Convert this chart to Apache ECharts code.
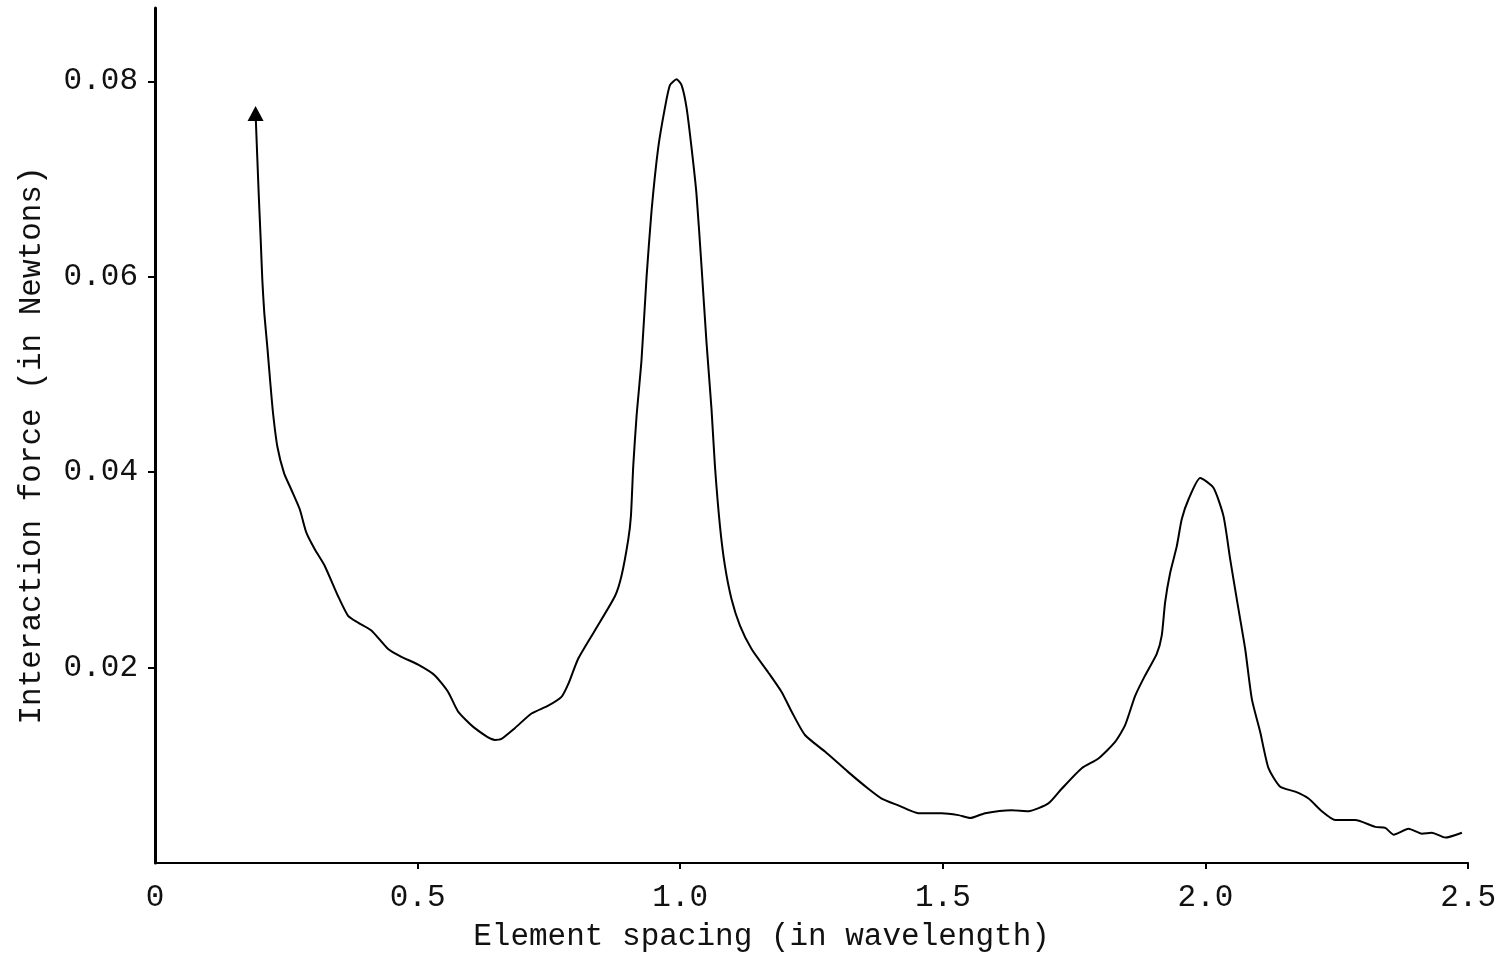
<!DOCTYPE html>
<html>
<head>
<meta charset="utf-8">
<script src="https://cdn.jsdelivr.net/npm/echarts@6/dist/echarts.min.js"></script>
<style>
html,body{margin:0;padding:0;background:#fff;}
#chart{width:1499px;height:957px;}
</style>
</head>
<body>
<div id="chart"></div>
<script>
// Element spacing (in wavelength)
var spacing = [0.1915,0.1975,0.2013,0.2044,0.2082,0.2139,0.2196,0.2248,0.2330,0.2457,0.2596,0.2756,0.2882,0.3042,0.3232,0.3486,0.3676,0.3867,0.4120,0.4438,0.4691,0.5010,0.5328,0.5581,0.5771,0.6090,0.6470,0.6596,0.6851,0.7168,0.7486,0.7739,0.7867,0.8057,0.8375,0.8756,0.8882,0.9010,0.9061,0.9105,0.9168,0.9263,0.9358,0.9453,0.9581,0.9709,0.9804,0.9930,1.0025,1.0120,1.0215,1.0310,1.0406,1.0501,1.0596,1.0661,1.0756,1.0851,1.0977,1.1137,1.1358,1.1676,1.1930,1.2120,1.2375,1.2756,1.3200,1.3581,1.3834,1.4152,1.4533,1.4977,1.5295,1.5518,1.5804,1.6310,1.6629,1.7010,1.7263,1.7644,1.7962,1.8280,1.8470,1.8661,1.8851,1.9072,1.9168,1.9232,1.9328,1.9453,1.9549,1.9676,1.9899,2.0152,2.0343,2.0470,2.0596,2.0756,2.0882,2.1042,2.1200,2.1423,2.1709,2.1962,2.2215,2.2470,2.2851,2.3232,2.3423,2.3581,2.3867,2.4120,2.4310,2.4566,2.4882];
// Interaction force (in Newtons)
var force = [0.0767,0.0684,0.0637,0.0596,0.0562,0.0528,0.0491,0.0460,0.0426,0.0399,0.0382,0.0362,0.0338,0.0321,0.0304,0.0273,0.0253,0.0246,0.0238,0.0219,0.0211,0.0203,0.0192,0.0175,0.0155,0.0138,0.0126,0.0127,0.0138,0.0153,0.0161,0.0170,0.0183,0.0209,0.0238,0.0273,0.0294,0.0331,0.0355,0.0406,0.0457,0.0515,0.0599,0.0667,0.0732,0.0773,0.0796,0.0802,0.0796,0.0773,0.0732,0.0684,0.0610,0.0532,0.0464,0.0406,0.0345,0.0304,0.0270,0.0243,0.0219,0.0195,0.0175,0.0155,0.0131,0.0114,0.0093,0.0076,0.0066,0.0059,0.0051,0.0051,0.0049,0.0046,0.0051,0.0054,0.0053,0.0061,0.0076,0.0097,0.0107,0.0124,0.0141,0.0171,0.0192,0.0214,0.0233,0.0267,0.0297,0.0324,0.0352,0.0372,0.0394,0.0384,0.0355,0.0311,0.0270,0.0219,0.0168,0.0134,0.0097,0.0078,0.0073,0.0066,0.0053,0.0044,0.0044,0.0037,0.0036,0.0029,0.0035,0.0030,0.0031,0.0026,0.0031];
var xTicks = [0, 0.5, 1.0, 1.5, 2.0, 2.5];
var xTickLabels = ['0', '0.5', '1.0', '1.5', '2.0', '2.5'];
var yTicks = [0.02, 0.04, 0.06, 0.08];
var yTickLabels = ['0.02', '0.04', '0.06', '0.08'];

var font = '"Liberation Mono", "DejaVu Sans Mono", monospace';
var data = spacing.map(function (s, i) {
  if (i === 0) {
    return { value: [s, force[i]], symbol: 'triangle', symbolSize: [16, 15] };
  }
  return { value: [s, force[i]], symbol: 'none' };
});

var chart = echarts.init(document.getElementById('chart'));
chart.setOption({
  animation: false,
  backgroundColor: '#fff',
  grid: { left: 155, right: 29, top: 8, bottom: 91 },
  xAxis: {
    type: 'value',
    min: 0, max: 2.5, interval: 0.5,
    name: 'Element spacing (in wavelength)',
    nameLocation: 'middle',
    nameGap: 58,
    nameTextStyle: { fontFamily: font, fontSize: 31, color: '#111', padding: [0, 100, 0, 0] },
    axisLine: { show: true, onZero: false, lineStyle: { color: '#000', width: 2 } },
    axisTick: { show: true, length: 6, inside: false, customValues: xTicks.slice(1), lineStyle: { color: '#000', width: 2 } },
    axisLabel: {
      fontFamily: font, fontSize: 31, color: '#111', margin: 19,
      customValues: xTicks,
      formatter: function (v) {
        var i = xTicks.indexOf(Math.round(v * 10) / 10);
        return i >= 0 ? xTickLabels[i] : '';
      }
    },
    splitLine: { show: false }
  },
  yAxis: {
    type: 'value',
    min: 0, max: 0.0875, interval: 0.02,
    name: 'Interaction force (in Newtons)',
    nameLocation: 'middle',
    nameGap: 108,
    nameRotate: 90,
    nameTextStyle: { fontFamily: font, fontSize: 31, color: '#111', padding: [0, 20, 0, 0] },
    axisLine: { show: true, lineStyle: { color: '#000', width: 3 } },
    axisTick: { show: true, length: 7, inside: false, customValues: yTicks, lineStyle: { color: '#000', width: 2 } },
    axisLabel: {
      fontFamily: font, fontSize: 31, color: '#111', margin: 17,
      customValues: yTicks,
      formatter: function (v) {
        var i = yTicks.indexOf(Math.round(v * 100) / 100);
        return i >= 0 ? yTickLabels[i] : '';
      }
    },
    splitLine: { show: false }
  },
  series: [{
    type: 'line',
    data: data,
    showSymbol: true,
    symbol: 'none',
    smooth: 0.2,
    itemStyle: { color: '#000' },
    lineStyle: { color: '#000', width: 2 }
  }]
});
</script>
</body>
</html>
